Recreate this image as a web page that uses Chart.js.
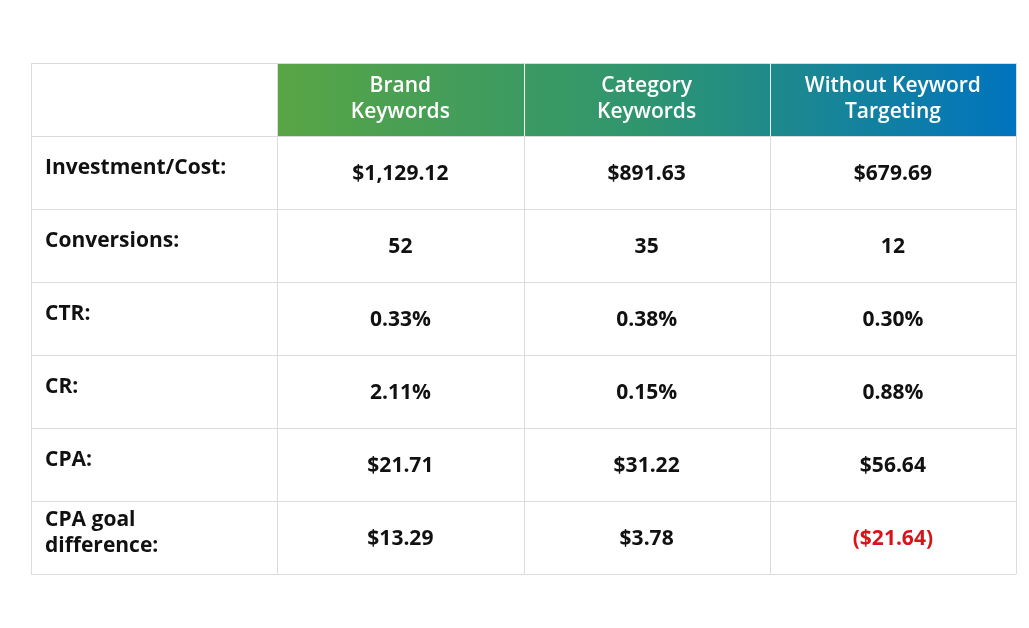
<!DOCTYPE html>
<html><head><meta charset="utf-8">
<script src="https://cdn.jsdelivr.net/npm/chart.js@4"></script>
<style>html,body{margin:0;padding:0;background:#fff}</style>
</head><body>
<canvas id="c" width="1029" height="628"></canvas>
<script>
const columns = ["Brand\nKeywords", "Category\nKeywords", "Without Keyword\nTargeting"];
const rowLabels = ["Investment/Cost:", "Conversions:", "CTR:", "CR:", "CPA:", "CPA goal\ndifference:"];
const brand = ["$1,129.12", "52", "0.33%", "2.11%", "$21.71", "$13.29"];
const category = ["$891.63", "35", "0.38%", "0.15%", "$31.22", "$3.78"];
const without = ["$679.69", "12", "0.30%", "0.88%", "$56.64", "($21.64)"];
const negativeCells = [[2, 5]];

const tablePlugin = {
  id: 'table',
  afterDraw(chart) {
    const ctx = chart.ctx, xs = chart.scales.x, ys = chart.scales.y;
    const X = v => xs.getPixelForValue(v), Y = v => ys.getPixelForValue(v);
    const nC = columns.length + 1, nR = rowLabels.length + 1;
    ctx.save();
    // header gradient
    const g = ctx.createLinearGradient(X(1), 0, X(nC), 0);
    g.addColorStop(0, '#58a544'); g.addColorStop(0.5, '#2e9570'); g.addColorStop(1, '#0074bf');
    ctx.fillStyle = g;
    ctx.fillRect(X(1), Y(0), X(nC) - X(1), Y(1) - Y(0));
    // grid
    ctx.strokeStyle = '#dcdcdc'; ctx.lineWidth = 1;
    for (let i = 0; i <= nC; i++) { ctx.beginPath(); ctx.moveTo(Math.round(X(i))+0.5, Y(0)); ctx.lineTo(Math.round(X(i))+0.5, Y(nR)); ctx.stroke(); }
    for (let j = 0; j <= nR; j++) { ctx.beginPath(); ctx.moveTo(X(0), Math.round(Y(j))+0.5); ctx.lineTo(X(nC), Math.round(Y(j))+0.5); ctx.stroke(); }
    ctx.strokeStyle = 'rgba(255,255,255,0.6)';
    for (let i = 2; i < nC; i++) { ctx.beginPath(); ctx.moveTo(Math.round(X(i))+0.5, Y(0)); ctx.lineTo(Math.round(X(i))+0.5, Y(1)); ctx.stroke(); }
    ctx.font = '600 21px "Open Sans", sans-serif';
    ctx.textBaseline = 'middle';
    // header text
    ctx.fillStyle = '#fff'; ctx.textAlign = 'center';
    columns.forEach((t, i) => {
      const lines = t.split('\n'), cx = (X(i+1) + X(i+2)) / 2, cy = (Y(0) + Y(1)) / 2;
      lines.forEach((l, k) => ctx.fillText(l, cx, cy + (k - (lines.length-1)/2) * 26));
    });
    // row labels
    ctx.font = 'bold 21px "Open Sans", sans-serif';
    ctx.fillStyle = '#111'; ctx.textAlign = 'left';
    rowLabels.forEach((t, j) => {
      const lines = t.split('\n'), cy = (Y(j+1) + Y(j+2)) / 2 - 4;
      lines.forEach((l, k) => ctx.fillText(l, X(0) + 14, cy + (k - (lines.length-1)/2) * 26));
    });
    // values
    ctx.textAlign = 'center';
    [brand, category, without].forEach((col, i) => {
      col.forEach((v, j) => {
        const neg = negativeCells.some(n => n[0] === i && n[1] === j);
        ctx.fillStyle = neg ? '#d7141a' : '#111';
        ctx.fillText(v, (X(i+1) + X(i+2)) / 2, (Y(j+1) + Y(j+2)) / 2 + 2);
      });
    });
    ctx.restore();
  }
};

new Chart(document.getElementById('c'), {
  type: 'scatter',
  data: { datasets: [] },
  options: {
    responsive: false, animation: false, devicePixelRatio: 1,
    layout: { padding: { left: 31, right: 13, top: 63, bottom: 54 } },
    plugins: { legend: { display: false }, tooltip: { enabled: false } },
    scales: {
      x: { type: 'linear', min: 0, max: columns.length + 1, display: false },
      y: { type: 'linear', min: 0, max: rowLabels.length + 1, reverse: true, display: false }
    }
  },
  plugins: [tablePlugin]
});
</script>
</body></html>
